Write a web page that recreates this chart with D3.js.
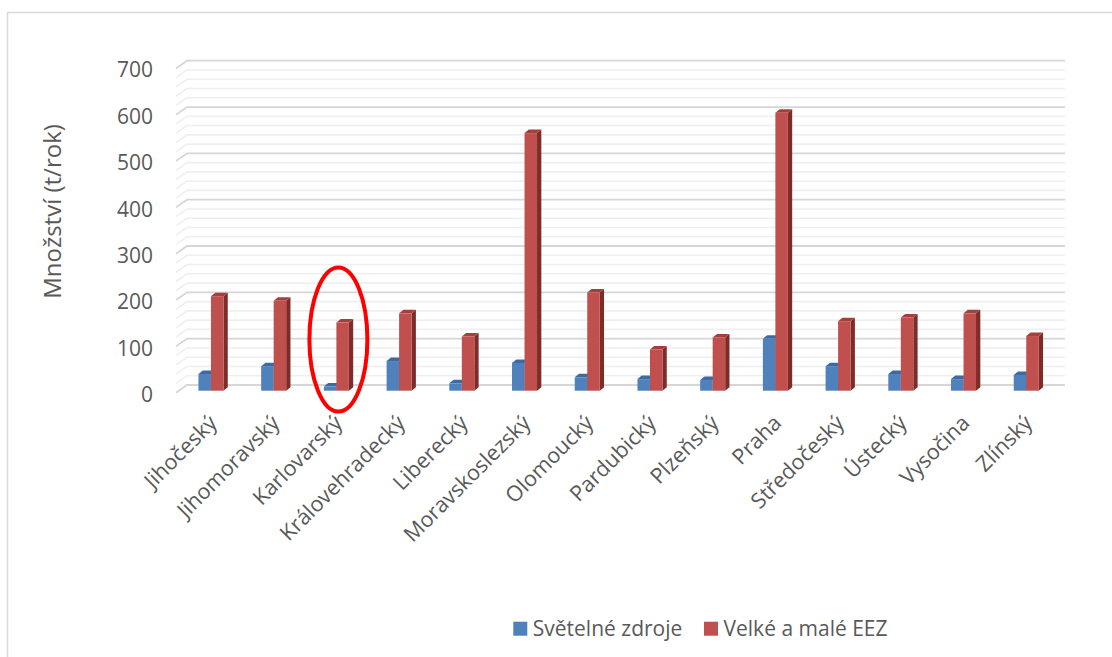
<!DOCTYPE html>
<html>
<head>
<meta charset="utf-8">
<script src="https://cdn.jsdelivr.net/npm/d3@7"></script>
<style>
  html, body { margin: 0; padding: 0; background: #fff; }
  svg { display: block; font-family: "Open Sans", sans-serif; }
</style>
</head>
<body>
<svg id="chart" width="1112" height="657"></svg>
<script>
// Regions of the Czech Republic
const categories = ["Jihočeský","Jihomoravský","Karlovarský","Královehradecký","Liberecký","Moravskoslezský","Olomoucký","Pardubický","Plzeňský","Praha","Středočeský","Ústecký","Vysočina","Zlínský"];
// Amounts in t/rok
const svetelneZdroje = [36,53,9,64,16,60,29,25,23,112,53,36,25,34];
const velkeAMaleEEZ  = [204,194,147,167,117,556,212,89,115,600,150,158,167,118];
const seriesNames = ["Světelné zdroje","Velké a malé EEZ"];
const yTicks = [0,100,200,300,400,500,600,700];

const svg = d3.select("#chart");
const textColor = "#595959";

// chart frame
svg.append("path").attr("d","M7.5,700 V12.5 H1200").attr("fill","none").attr("stroke","#d9d9d9").attr("stroke-width",1.5);

// back wall geometry and depth offset of the 3D projection
const wallLeft = 187, wallRight = 1065;
const depthDx = -11, depthDy = 7.7;

const x = d3.scaleBand().domain(categories).range([wallLeft, wallRight]).paddingInner(0).paddingOuter(0);
const yWall  = d3.scaleLinear().domain([0,700]).range([385, 60.7]);
const yBar   = d3.scaleLinear().domain([0,700]).range([390.7, 66.4]);
const yFront = d3.scaleLinear().domain([0,700]).range([395, 70]);

// gridlines: minor every 20, major every 100
const minor = d3.range(0, 701, 20).filter(v => v % 100 !== 0);
const grid = svg.append("g");
function gridLine(v, color, w) {
  const yy = yWall(v);
  grid.append("path")
    .attr("d", `M${wallLeft + depthDx},${yy + depthDy} L${wallLeft},${yy} H${wallRight}`)
    .attr("fill","none").attr("stroke",color).attr("stroke-width",w);
}
minor.forEach(v => gridLine(v, "#efefef", 1.6));
yTicks.forEach(v => gridLine(v, "#d6d6d6", 1.8));

// y tick labels
svg.append("g").selectAll("text").data(yTicks).join("text")
  .attr("x", 153).attr("y", d => yFront(d))
  .attr("dy","0.35em")
  .attr("text-anchor","end")
  .attr("fill", textColor)
  .attr("font-size", 21)
  .text(d => d);

// y axis title
svg.append("text")
  .attr("transform","translate(53,211.5) rotate(-90)")
  .attr("text-anchor","middle").attr("dy","0.35em")
  .attr("fill", textColor).attr("font-size", 24)
  .text("Množství (t/rok)");

// 3D columns
const barW = 12.5, topDx = 4.3, topDy = -3.5;
const frontShift = -7.4;
const palette = [
  {front:"#4F81BD", top:"#3d6aa3", side:"#34598a"},
  {front:"#C0504D", top:"#a3403d", side:"#7d2c2a"}
];
const bars = svg.append("g");
function column(cx0, v, p) {
  const y0 = yBar(0), y1 = yBar(v);
  const g = bars.append("g");
  g.append("path") // side
    .attr("d", `M${cx0+barW},${y1} L${cx0+barW+topDx},${y1+topDy} L${cx0+barW+topDx},${y0+topDy} L${cx0+barW},${y0} Z`)
    .attr("fill", p.side);
  g.append("path") // top
    .attr("d", `M${cx0},${y1} L${cx0+topDx},${y1+topDy} L${cx0+barW+topDx},${y1+topDy} L${cx0+barW},${y1} Z`)
    .attr("fill", p.top);
  g.append("rect") // front
    .attr("x", cx0).attr("y", y1).attr("width", barW).attr("height", y0 - y1)
    .attr("fill", p.front);
}
categories.forEach((c, i) => {
  const center = x(c) + x.bandwidth()/2 + frontShift;
  column(center - barW, svetelneZdroje[i], palette[0]);
  column(center, velkeAMaleEEZ[i], palette[1]);
});

// category labels
svg.append("g").selectAll("text").data(categories).join("text")
  .attr("transform", d => `translate(${x(d) + x.bandwidth()/2 + frontShift + 2},${419}) rotate(-45)`)
  .attr("text-anchor","end").attr("dy","0.35em")
  .attr("fill", textColor).attr("font-size", 21.5)
  .text(d => d);

// highlight around Karlovarský
const kv = x("Karlovarský") + x.bandwidth()/2 + frontShift;
svg.append("ellipse")
  .attr("cx", kv + 2).attr("cy", 339.5).attr("rx", 29).attr("ry", 72)
  .attr("fill","none").attr("stroke","#FF0000").attr("stroke-width", 4);

// legend
const legend = svg.append("g");
const legendPos = [513.3, 704];
seriesNames.forEach((n, i) => {
  legend.append("rect").attr("x", legendPos[i]).attr("y", 621.7).attr("width", 14).attr("height", 14).attr("fill", palette[i].front);
  legend.append("text").attr("x", legendPos[i] + 19.5).attr("y", 636)
    .attr("fill", textColor).attr("font-size", 21).text(n);
});
</script>
</body>
</html>
